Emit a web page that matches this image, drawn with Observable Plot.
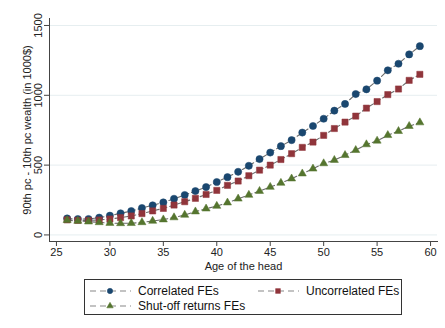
<!DOCTYPE html>
<html>
<head>
<meta charset="utf-8">
<script src="https://cdn.jsdelivr.net/npm/d3@7"></script>
<script src="https://cdn.jsdelivr.net/npm/@observablehq/plot@0.6"></script>
<style>
  html, body { margin: 0; padding: 0; background: #fff; }
  #wrap { position: relative; width: 445px; height: 328px; font-family: "Liberation Sans", Arial, sans-serif; }
  #legend { position: absolute; left: 84px; top: 279px; width: 316px; height: 34px; border: 1px solid #333; background: #fff; font-size: 12px; color: #111; }
  .item { position: absolute; display: flex; align-items: center; height: 14px; }
  .item svg { margin-right: 7px; }
</style>
</head>
<body>
<div id="wrap"></div>
<script>
// Age of the household head
const ages = [26, 27, 28, 29, 30, 31, 32, 33, 34, 35, 36, 37, 38, 39, 40, 41, 42,
              43, 44, 45, 46, 47, 48, 49, 50, 51, 52, 53, 54, 55, 56, 57, 58, 59];

// 90th - 10th percentile wealth gap, thousands of dollars
const correlated = [118, 114, 114, 124, 138, 155, 171, 193, 212, 233, 259, 286, 314, 343, 379, 414, 452,
                    495, 543, 590, 636, 679, 733, 780, 832, 890, 938, 1009, 1043, 1105, 1179, 1226, 1293, 1352];
const uncorrelated = [108, 104, 104, 107, 114, 124, 136, 153, 172, 190, 214, 238, 262, 290, 319, 355, 386,
                      424, 464, 500, 540, 582, 627, 665, 713, 762, 808, 851, 908, 955, 1005, 1045, 1107, 1150];
const shutOff = [105, 100, 95, 90, 85, 83, 84, 90, 100, 110, 125, 143, 167, 188, 207, 231, 259,
                 286, 314, 343, 372, 403, 439, 474, 512, 536, 571, 607, 648, 674, 714, 743, 779, 805];

const xTicks = [25, 30, 35, 40, 45, 50, 55, 60];
const yTicks = [0, 500, 1000, 1500];

const series = [
  {name: "Correlated FEs", values: correlated, color: "#1a476f", symbol: "circle", r: 3.6, lr: 2.7},
  {name: "Uncorrelated FEs", values: uncorrelated, color: "#90353b", symbol: "square", r: 3.5, lr: 2.7},
  {name: "Shut-off returns FEs", values: shutOff, color: "#55752f", symbol: "triangle", r: 3.0, lr: 2.4}
];

const rows = series.flatMap(s => ages.map((a, i) => ({age: a, value: s.values[i], name: s.name})));

const lineColor = "#6a6a6a";
const dash = "5,3";

const chart = Plot.plot({
  width: 445,
  height: 275,
  marginLeft: 49,
  marginRight: 8,
  marginTop: 18,
  marginBottom: 34,
  style: {fontFamily: "'Liberation Sans', Arial, sans-serif", fontSize: "11px", color: "#222", background: "#fff"},
  x: {domain: [24.35, 60.65]},
  y: {domain: [-47, 1550]},
  marks: [
    Plot.gridY(yTicks, {stroke: "#e6eef0", strokeOpacity: 1}),
    Plot.frame({anchor: "left", stroke: "#444"}),
    Plot.frame({anchor: "bottom", stroke: "#444"}),
    Plot.axisX(xTicks, {tickSize: 5, tickPadding: 2, stroke: "#444",
      label: "Age of the head", labelAnchor: "center", labelArrow: "none", labelOffset: 28}),
    Plot.axisY(yTicks, {tickSize: 5, text: null, stroke: "#444",
      label: "90th pc - 10th pc wealth (in 1000$)", labelAnchor: "center", labelArrow: "none", labelOffset: 26}),
    Plot.text(yTicks, {y: d => d, text: d => String(d), frameAnchor: "left", dx: -11,
      rotate: -90, textAnchor: "middle", lineAnchor: "middle", fill: "#222"}),
    ...series.map(s => Plot.line(rows.filter(d => d.name === s.name), {
      x: "age", y: "value", stroke: lineColor, strokeWidth: 1.1, strokeDasharray: dash})),
    ...series.map(s => Plot.dot(rows.filter(d => d.name === s.name), {
      x: "age", y: "value", symbol: s.symbol, r: s.r, fill: s.color, stroke: s.color, strokeWidth: 0.5}))
  ]
});

const wrap = document.getElementById("wrap");
wrap.appendChild(chart);

// Legend box under the chart
const legend = document.createElement("div");
legend.id = "legend";
wrap.appendChild(legend);

const positions = [
  {left: 4, top: 4},
  {left: 172, top: 4},
  {left: 4, top: 19}
];

series.forEach((s, k) => {
  const item = document.createElement("div");
  item.className = "item";
  item.style.left = positions[k].left + "px";
  item.style.top = positions[k].top + "px";
  const svg = d3.create("svg").attr("width", 42).attr("height", 12);
  svg.append("line").attr("x1", 0).attr("x2", 42).attr("y1", 6).attr("y2", 6)
    .attr("stroke", "#888").attr("stroke-width", 1.1).attr("stroke-dasharray", "6,4").attr("stroke-dashoffset", -1);
  const sym = {circle: d3.symbolCircle, square: d3.symbolSquare, triangle: d3.symbolTriangle}[s.symbol];
  svg.append("path").attr("transform", "translate(21,6)")
    .attr("d", d3.symbol(sym, Math.PI * s.lr * s.lr)())
    .attr("fill", s.color).attr("stroke", s.color).attr("stroke-width", 0.5);
  item.appendChild(svg.node());
  const label = document.createElement("span");
  label.textContent = s.name;
  item.appendChild(label);
  legend.appendChild(item);
});
</script>
</body>
</html>
